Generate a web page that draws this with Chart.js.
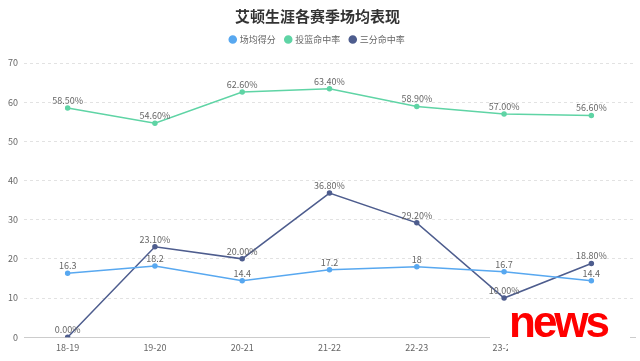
<!DOCTYPE html>
<html>
<head>
<meta charset="utf-8">
<script src="https://cdn.jsdelivr.net/npm/chart.js@4/dist/chart.umd.min.js"></script>
<style>
  html, body { margin: 0; padding: 0; background: #fff; }
  #wrap { position: relative; width: 640px; height: 361px; }
  #cover { position: absolute; left: 490px; top: 301px; width: 140px; height: 40px; background: #fff; }
  #cover2 { position: absolute; left: 508px; top: 341px; width: 122px; height: 20px; background: #fff; }
  #news {
    position: absolute; left: 504px; top: 298px;
    padding-left: 5px; color: #f00;
    font: bold 44px "Liberation Sans", Arial, sans-serif;
    line-height: 48px; letter-spacing: -3px;
  }
</style>
</head>
<body>
<div id="wrap">
  <canvas id="chart" width="640" height="361"></canvas>
  <div id="cover"></div>
  <div id="cover2"></div>
  <div id="news">news</div>
</div>
<script>
// 赛季
const seasons = ['18-19', '19-20', '20-21', '21-22', '22-23', '23-24', '24-25'];
// 场均得分
const points = [16.3, 18.2, 14.4, 17.2, 18, 16.7, 14.4];
// 投篮命中率 (%)
const fgPct = [58.5, 54.6, 62.6, 63.4, 58.9, 57.0, 56.6];
// 三分命中率 (%)
const threePct = [0, 23.1, 20.0, 36.8, 29.2, 10.0, 18.8];
const yTicks = [0, 10, 20, 30, 40, 50, 60, 70];

const fontCN = '"Noto Sans CJK SC", "Noto Sans", sans-serif';

// 数据标签
const valueLabels = {
  id: 'valueLabels',
  afterDatasetsDraw(chart) {
    const ctx = chart.ctx;
    ctx.save();
    ctx.font = '9px ' + fontCN;
    ctx.fillStyle = '#666';
    ctx.textAlign = 'center';
    ctx.textBaseline = 'bottom';
    chart.data.datasets.forEach((ds, i) => {
      const meta = chart.getDatasetMeta(i);
      if (meta.hidden) return;
      meta.data.forEach((pt, j) => {
        const v = ds.data[j];
        const txt = ds.isPct ? v.toFixed(2) + '%' : String(v);
        ctx.fillText(txt, pt.x, pt.y - 3);
      });
    });
    ctx.restore();
  }
};

// 图例下方多留一点空
const legendGap = {
  id: 'legendGap',
  afterInit(chart) {
    const lg = chart.legend;
    if (!lg) return;
    const fit = lg.fit.bind(lg);
    lg.fit = function () { fit(); this.height += 9; };
  }
};

new Chart(document.getElementById('chart'), {
  type: 'line',
  data: {
    labels: seasons,
    datasets: [
      {
        label: '场均得分', data: points, isPct: false,
        borderColor: '#58a8f0', backgroundColor: '#58a8f0',
        borderWidth: 1.5, pointRadius: 2, pointHoverRadius: 2
      },
      {
        label: '投篮命中率', data: fgPct, isPct: true,
        borderColor: '#5fd4a5', backgroundColor: '#5fd4a5',
        borderWidth: 1.5, pointRadius: 2, pointHoverRadius: 2
      },
      {
        label: '三分命中率', data: threePct, isPct: true,
        borderColor: '#4e5d8e', backgroundColor: '#4e5d8e',
        borderWidth: 1.5, pointRadius: 2, pointHoverRadius: 2
      }
    ]
  },
  options: {
    responsive: false,
    animation: false,
    layout: { padding: { left: 0, right: 5, top: 0, bottom: 3 } },
    plugins: {
      title: {
        display: true,
        text: '艾顿生涯各赛季场均表现',
        color: '#333',
        font: { family: fontCN, size: 15, weight: 'bold' },
        padding: { top: 7, bottom: 0 }
      },
      legend: {
        display: true,
        labels: {
          usePointStyle: true, pointStyle: 'circle', boxWidth: 5, boxHeight: 5,
          color: '#666', font: { family: fontCN, size: 9 }, padding: 10
        }
      },
      tooltip: { enabled: false }
    },
    scales: {
      x: {
        offset: true,
        grid: { display: false, drawTicks: false },
        border: { display: true, color: '#ccc' },
        ticks: { color: '#666', font: { family: fontCN, size: 9 }, padding: 5, maxRotation: 0, autoSkip: false }
      },
      y: {
        min: 0, max: 70,
        afterBuildTicks(scale) { scale.ticks = yTicks.map(v => ({ value: v })); },
        afterFit(scale) { scale.width = 24; },
        grid: { color: '#e2e2e2', drawTicks: false },
        border: { display: false, dash: [3, 3] },
        ticks: { color: '#666', font: { family: fontCN, size: 9 }, padding: 6 }
      }
    }
  },
  plugins: [valueLabels, legendGap]
});
</script>
</body>
</html>
